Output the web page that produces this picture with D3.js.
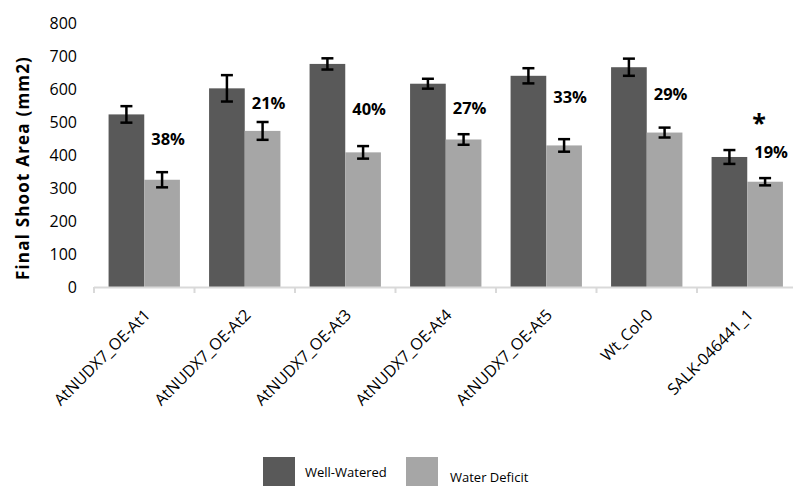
<!DOCTYPE html>
<meta charset="utf-8">
<title>Final Shoot Area</title>
<style>

body { margin: 0; background: #fff; }
text { font-family: "Open Sans", sans-serif; fill: #000; }

</style>
<body>

<div id="chart"></div>

<script src="https://cdn.jsdelivr.net/npm/d3@7"></script>
<script>

  var categories = ["AtNUDX7_OE-At1", "AtNUDX7_OE-At2", "AtNUDX7_OE-At3", "AtNUDX7_OE-At4",
                    "AtNUDX7_OE-At5", "Wt_Col-0", "SALK-046441_1"];
  var seriesNames = ["Well-Watered", "Water Deficit"];
  var wellWatered = [523, 602, 676, 616, 640, 666, 394];
  var wellErr = [25, 40, 17, 15, 23, 26, 21];
  var waterDeficit = [325, 473, 408, 447, 429, 468, 319];
  var deficitErr = [23, 27, 19, 16, 19, 15, 11];
  var reduction = ["38%", "21%", "40%", "27%", "33%", "29%", "19%"];
  var reductionY = [448, 558, 539, 542, 574, 585, 407]; // label height, in mm2
  var yTicks = [0, 100, 200, 300, 400, 500, 600, 700, 800];

  var colors = ["#595959", "#a6a6a6"];

  var width = 793, height = 486;

  var svg = d3.select("#chart").append("svg")
      .attr("width", width)
      .attr("height", height);

  var x = d3.scaleBand()
      .domain(categories)
      .range([94, 797.5])
      .paddingInner(0.29)
      .paddingOuter(0.145);

  var xs = d3.scaleBand()
      .domain(seriesNames)
      .range([0, x.bandwidth()]);

  var y = d3.scaleLinear()
      .domain([0, 800])
      .range([287, 23]);

  var data = categories.map(function(c, i) {
    return {
      cat: c,
      vals: [
        {s: seriesNames[0], v: wellWatered[i], e: wellErr[i]},
        {s: seriesNames[1], v: waterDeficit[i], e: deficitErr[i]}
      ]
    };
  });

  // y tick labels (no axis line in the original)
  svg.selectAll(".ylab")
      .data(yTicks)
    .enter().append("text")
      .attr("class", "ylab")
      .attr("x", 77)
      .attr("y", function(d) { return y(d); })
      .attr("dy", "0.35em")
      .attr("text-anchor", "end")
      .style("font-size", "16px")
      .text(function(d) { return d; });

  svg.append("text")
      .attr("transform", "translate(23," + 168 + ") rotate(-90)")
      .attr("text-anchor", "middle")
      .attr("dy", "0.35em")
      .style("font-size", "17px")
      .style("font-weight", "bold")
      .style("letter-spacing", "1.2px")
      .text("Final Shoot Area (mm2)");

  // bars
  var groups = svg.selectAll(".grp")
      .data(data)
    .enter().append("g")
      .attr("class", "grp")
      .attr("transform", function(d) { return "translate(" + x(d.cat) + ",0)"; });

  groups.selectAll("rect")
      .data(function(d) { return d.vals; })
    .enter().append("rect")
      .attr("x", function(d) { return xs(d.s); })
      .attr("width", xs.bandwidth())
      .attr("y", function(d) { return y(d.v); })
      .attr("height", function(d) { return y(0) - y(d.v); })
      .attr("fill", function(d, i) { return colors[i]; });

  // error bars
  var eb = groups.selectAll(".err")
      .data(function(d) { return d.vals; })
    .enter().append("g")
      .attr("class", "err")
      .attr("stroke", "#000")
      .attr("stroke-width", 2.5);

  eb.append("line")
      .attr("x1", function(d) { return xs(d.s) + xs.bandwidth() / 2; })
      .attr("x2", function(d) { return xs(d.s) + xs.bandwidth() / 2; })
      .attr("y1", function(d) { return y(d.v + d.e); })
      .attr("y2", function(d) { return y(d.v - d.e); });

  [1, -1].forEach(function(sign) {
    eb.append("line")
        .attr("x1", function(d) { return xs(d.s) + xs.bandwidth() / 2 - 6; })
        .attr("x2", function(d) { return xs(d.s) + xs.bandwidth() / 2 + 6; })
        .attr("y1", function(d) { return y(d.v + sign * d.e); })
        .attr("y2", function(d) { return y(d.v + sign * d.e); });
  });

  // percentage labels
  groups.append("text")
      .attr("x", function(d, i) { return xs(seriesNames[1]) + xs.bandwidth() / 2 + 6; })
      .attr("y", function(d, i) { return y(reductionY[i]); })
      .attr("dy", "0.35em")
      .attr("text-anchor", "middle")
      .style("font-size", "16.5px")
      .style("font-weight", "bold")
      .text(function(d, i) { return reduction[i]; });

  // significance star on the last group
  svg.append("text")
      .attr("x", x(categories[6]) + xs(seriesNames[1]) + xs.bandwidth() / 2 - 6)
      .attr("y", 132)
      .attr("text-anchor", "middle")
      .style("font-size", "25px")
      .style("font-weight", "bold")
      .text("*");

  // x axis line and ticks at category boundaries
  svg.append("line")
      .attr("x1", 94).attr("x2", width)
      .attr("y1", y(0) + 0.5).attr("y2", y(0) + 0.5)
      .attr("stroke", "#d9d9d9")
      .attr("stroke-width", 2);

  svg.selectAll(".xtick")
      .data(categories)
    .enter().append("line")
      .attr("class", "xtick")
      .attr("x1", function(d) { return x(d) - x.step() * x.paddingOuter(); })
      .attr("x2", function(d) { return x(d) - x.step() * x.paddingOuter(); })
      .attr("y1", y(0))
      .attr("y2", y(0) + 6)
      .attr("stroke", "#d9d9d9")
      .attr("stroke-width", 2);

  svg.selectAll(".xlab")
      .data(categories)
    .enter().append("text")
      .attr("class", "xlab")
      .attr("transform", function(d) {
        return "translate(" + (x(d) + x.bandwidth() / 2 + 3) + "," + (y(0) + 25) + ") rotate(-45)";
      })
      .attr("text-anchor", "end")
      .attr("dy", "0.35em")
      .style("font-size", "16px")
      .text(function(d) { return d; });

  // legend
  var legX = [263, 406];
  var legTextY = [472, 477];
  seriesNames.forEach(function(s, i) {
    svg.append("rect")
        .attr("x", legX[i])
        .attr("y", 457)
        .attr("width", 32)
        .attr("height", 30)
        .attr("fill", colors[i]);
    svg.append("text")
        .attr("x", legX[i] + 42 + i * 2)
        .attr("y", legTextY[i])
        .attr("dy", "0.35em")
        .style("font-size", "13px")
        .text(s);
  });

</script>

</body>
</html>
